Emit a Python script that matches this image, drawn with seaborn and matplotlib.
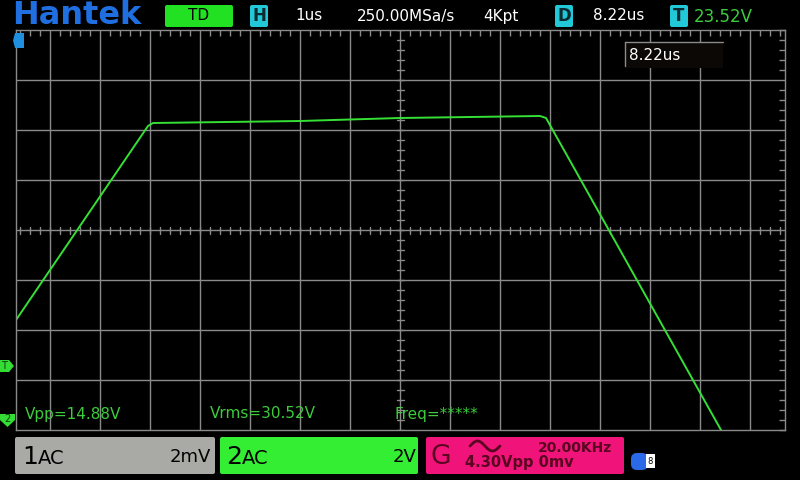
import numpy as np
import seaborn as sns
import matplotlib.pyplot as plt
import pandas as pd
from matplotlib.patches import FancyBboxPatch, Rectangle, Polygon

# trace: time in us (1us/div, 0 = centre), volts (2V/div)
time_us = [-7.68, -5.04, -4.94, -2.0, 0.0, 2.8, 2.92, 6.42]
volts = [-3.6, 4.16, 4.28, 4.36, 4.48, 4.56, 4.48, -8.0]

header_items = ['1us', '250.00MSa/s', '4Kpt', '8.22us']
header_x = [295, 357, 483, 593]
trig_level = '23.52V'
measures = ['Vpp=14.88V', 'Vrms=30.52V', 'Freq=*****']
measure_x = [25, 210, 395]

sns.set_style('dark')
plt.rcParams['font.family'] = ['DejaVu Sans']

W, H = 800, 480
fig = plt.figure(figsize=(8, 4.8), dpi=100, facecolor='black')

# graticule: 16..785 px wide, 30..430 px high
left, right, top, bottom = 16, 785, 30, 430
ax = fig.add_axes([left / W, 1 - bottom / H, (right - left) / W, (bottom - top) / H])
ax.set_facecolor('black')
ax.set_xlim((left - 400) / 50, (right - 400) / 50)
ax.set_ylim(-8, 8)

grid_col = '#8a8a8a'
ax.set_xticks(np.arange(-7, 8, 1))
ax.set_yticks(np.arange(-6, 7, 2))
ax.set_xticks(np.arange(-7.6, 7.7, 0.2), minor=True)
ax.set_yticks(np.arange(-8, 8.1, 0.4), minor=True)
ax.grid(True, which='major', color=grid_col, lw=1)
ax.tick_params(which='both', direction='in', top=True, right=True,
               labelbottom=False, labelleft=False, color=grid_col)
ax.tick_params(which='major', length=0)
ax.tick_params(which='minor', length=4, width=1)
for s in ax.spines.values():
    s.set_color(grid_col)
    s.set_linewidth(1)

# ticks along the centre cross
for t in np.arange(-7.6, 7.7, 0.2):
    ax.plot([t, t], [-0.14, 0.14], color=grid_col, lw=1)
for v in np.arange(-8, 8.1, 0.4):
    ax.plot([-0.07, 0.07], [v, v], color=grid_col, lw=1)

df = pd.DataFrame({'t': time_us, 'v': volts})
sns.lineplot(data=df, x='t', y='v', ax=ax, color='#35e035', lw=1.4, sort=False)
ax.set_xlabel('')
ax.set_ylabel('')

# overlay in pixel coordinates for the scope chrome
ov = fig.add_axes([0, 0, 1, 1], facecolor='none')
ov.set_xlim(0, W)
ov.set_ylim(H, 0)
ov.axis('off')

def box(x0, y0, x1, y1, fc, r=2):
    ov.add_patch(FancyBboxPatch((x0, y0), x1 - x0, y1 - y0,
                                boxstyle=f'round,pad=0,rounding_size={r}',
                                fc=fc, ec='none'))

# header
ov.text(12, 16, 'Hantek', color='#1f6fe0', fontsize=23, fontweight='bold',
        va='center', ha='left')
box(165, 5, 233, 27, '#22e022')
ov.text(199, 16, 'TD', color='black', fontsize=11, ha='center', va='center')
cyan = '#22c8d8'
for x0, lab in [(250, 'H'), (555, 'D'), (670, 'T')]:
    box(x0, 5, x0 + 18, 27, cyan)
    ov.text(x0 + 9, 16, lab, color='#0a2a30', fontsize=12, fontweight='bold',
            ha='center', va='center')
for x, s in zip(header_x, header_items):
    ov.text(x, 16, s, color='white', fontsize=11, ha='left', va='center')
ov.text(694, 17, trig_level, color='#3ccc3c', fontsize=12, ha='left', va='center')

# cursor readout
ov.add_patch(Rectangle((625, 42), 98, 26, fc='#0c0806', ec='none'))
ov.plot([625, 723], [42, 42], color=grid_col, lw=1)
ov.plot([625, 625], [42, 66], color=grid_col, lw=1)
ov.text(629, 55, '8.22us', color='white', fontsize=11, ha='left', va='center')

# side markers
ov.add_patch(Polygon([[15, 33], [24, 33], [24, 48], [15, 48], [13, 40.5]],
                     fc='#1f8fe0', ec='none'))
ov.add_patch(Polygon([[0, 360], [9, 360], [14, 366], [9, 372], [0, 372]],
                     fc='#33dd33', ec='none'))
ov.text(4, 366, 'T', color='#0a3a0a', fontsize=7, ha='center', va='center')
ov.add_patch(Polygon([[0, 414], [15, 414], [15, 420], [7.5, 427], [0, 420]],
                     fc='#33dd33', ec='none'))
ov.text(7.5, 419, '2', color='#0a3a0a', fontsize=7, ha='center', va='center')

# measurements
for x, s in zip(measure_x, measures):
    ov.text(x, 414, s, color='#3ccc3c', fontsize=11, ha='left', va='center')

# footer channel boxes
box(15, 437, 215, 474, '#a9a9a5')
ov.text(22, 457, '1', color='black', fontsize=18, ha='left', va='center')
ov.text(38, 459, 'AC', color='black', fontsize=14, ha='left', va='center')
ov.text(211, 457, '2mV', color='black', fontsize=13, ha='right', va='center')

box(220, 437, 418, 474, '#33ee33')
ov.text(226, 457, '2', color='black', fontsize=18, ha='left', va='center')
ov.text(242, 459, 'AC', color='black', fontsize=14, ha='left', va='center')
ov.text(416, 457, '2V', color='black', fontsize=13, ha='right', va='center')

box(426, 437, 624, 474, '#f0147a')
ov.text(431, 457, 'G', color='#5a0620', fontsize=19, ha='left', va='center')
# sine-wave generator icon
wx = np.linspace(0, 2 * np.pi, 40)
ov.plot(470 + wx / (2 * np.pi) * 30, 446 - 5 * np.sin(wx), color='#5a0620', lw=2)
ov.text(612, 448, '20.00KHz', color='#5a0620', fontsize=10, fontweight='bold',
        ha='right', va='center')
ov.text(465, 463, '4.30Vpp 0mv', color='#5a0620', fontsize=10.5,
        fontweight='bold', ha='left', va='center')

# usb icon
box(631, 453, 648, 470, '#2a6ae8', r=6)
ov.add_patch(Rectangle((646, 454), 9, 14, fc='white', ec='none'))
ov.text(650.5, 461, '8', color='black', fontsize=6, ha='center', va='center')

fig.savefig('out.png', dpi=100, facecolor='black')
